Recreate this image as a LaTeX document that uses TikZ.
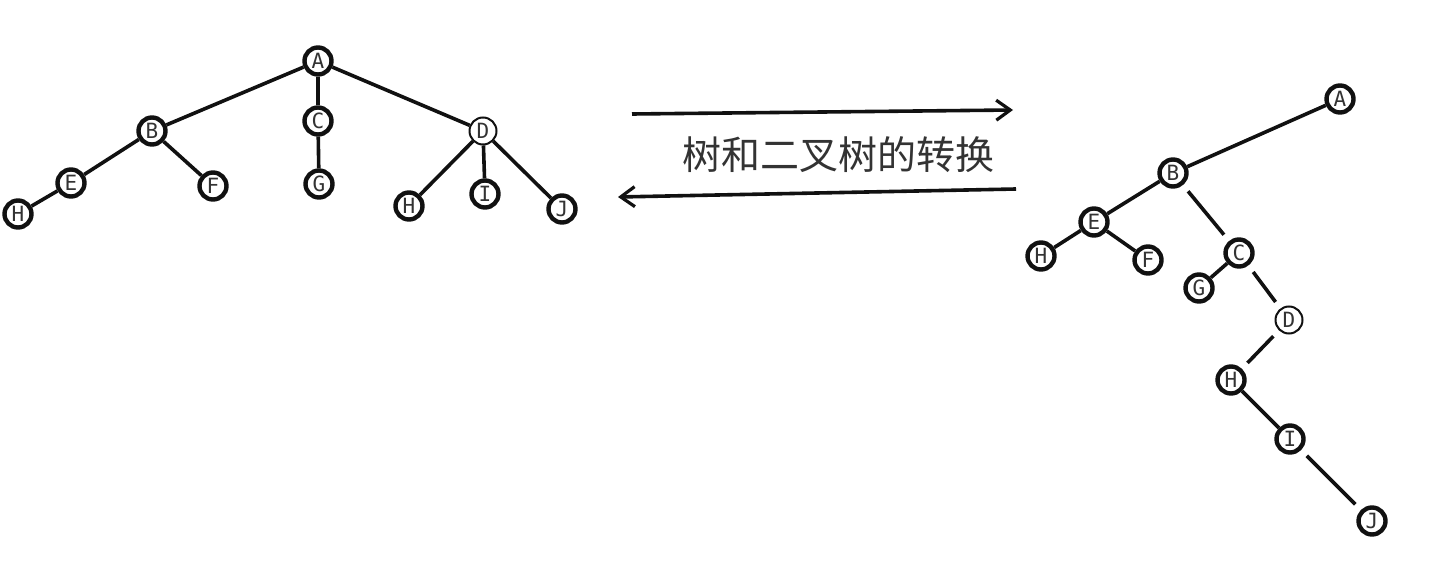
\documentclass[tikz,border=0pt]{standalone}
\usepackage{fontspec}
\setmonofont{DejaVu Sans Mono}
\newfontfamily\cjk{Noto Sans CJK SC}
\usetikzlibrary{arrows.meta}
\definecolor{ink}{HTML}{111111}
\definecolor{txt}{HTML}{333333}
\tikzset{
  nd/.style ={draw=ink,line width=2.2pt,circle,fill=white,inner sep=0pt,minimum size=13.5pt,font=\ttfamily\fontsize{10.5}{11}\selectfont,text=txt},
  ndt/.style={nd,line width=1pt},
  ln/.style ={line width=1.8pt,ink},
  gp/.style ={ln,shorten <=4pt,shorten >=4pt},
  ar/.style ={-{Straight Barb[length=7pt,width=10pt,line width=1.6pt]},line width=1.8pt,ink},
}

\begin{document}
\begin{tikzpicture}[x=0.5pt,y=-0.5pt]
\useasboundingbox (0,0) rectangle (1450,588);
% tree (left)
\node[nd] (la) at (318,61) {A};
\node[nd] (lb) at (152,131) {B};
\node[nd] (lc) at (318,121) {C};
\node[ndt] (ld) at (483,131) {D};
\node[nd] (le) at (71,183) {E};
\node[nd] (lf) at (213,186) {F};
\node[nd] (lg) at (319,184) {G};
\node[nd] (lh) at (18,214) {H};
\node[nd] (lh2) at (409,206) {H};
\node[nd] (li) at (485,194) {I};
\node[nd] (lj) at (562,209) {J};
\draw[ln] (la) -- (lb); \draw[ln] (la) -- (lc); \draw[ln] (la) -- (ld);
\draw[ln] (lb) -- (le); \draw[ln] (lb) -- (lf); \draw[ln] (le) -- (lh);
\draw[ln] (lc) -- (lg);
\draw[ln] (ld) -- (lh2); \draw[ln] (ld) -- (li); \draw[ln] (ld) -- (lj);
% arrows + title
\coordinate (p1) at (632,114); \coordinate (p2) at (1013,110);
\coordinate (q1) at (1016,189); \coordinate (q2) at (618,197);
\draw[ar] (p1) -- (p2);
\draw[ar] (q1) -- (q2);
\node[font=\cjk\fontsize{19.5}{20}\selectfont,text=txt] (ttl) at (838,155) {树和二叉树的转换};
% binary tree (right)
\node[nd] (ra) at (1340,99) {A};
\node[nd] (rb) at (1173,173) {B};
\node[nd] (re) at (1094,222) {E};
\node[nd] (rh) at (1041,256) {H};
\node[nd] (rf) at (1148,260) {F};
\node[nd] (rc) at (1239,253) {C};
\node[nd] (rg) at (1199,288) {G};
\node[ndt] (rd) at (1289,320) {D};
\node[nd] (rh2) at (1231,380) {H};
\node[nd] (ri) at (1290,439) {I};
\node[nd] (rj) at (1372,521) {J};
\draw[ln] (ra) -- (rb); \draw[ln] (rb) -- (re);
\draw[ln] (re) -- (rh); \draw[ln] (re) -- (rf);
\draw[gp] (rb) -- (rc); \draw[ln] (rc) -- (rg);
\draw[gp] (rc) -- (rd); \draw[gp] (rd) -- (rh2);
\draw[ln] (rh2) -- (ri); \draw[gp] (ri) -- (rj);
\end{tikzpicture}
\end{document}
